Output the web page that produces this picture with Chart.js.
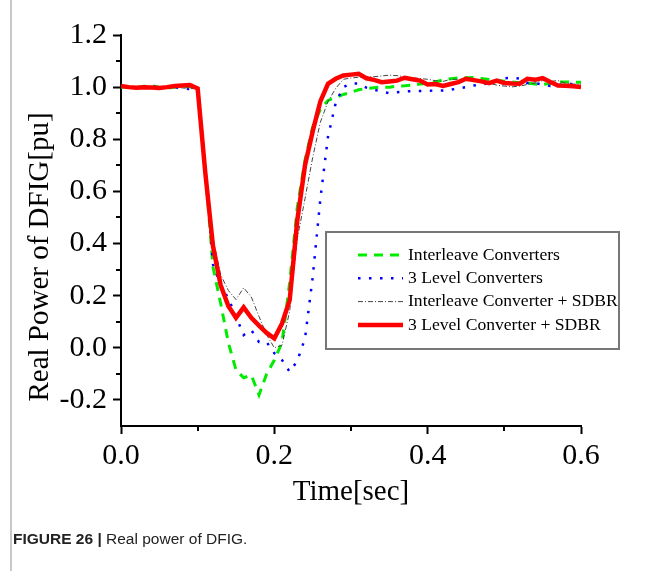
<!DOCTYPE html>
<html>
<head>
<meta charset="utf-8">
<script src="https://cdn.jsdelivr.net/npm/chart.js@4.4.0/dist/chart.umd.min.js"></script>
<style>
  html, body { margin: 0; padding: 0; background: #fff; }
  #wrap { position: relative; width: 665px; height: 571px; overflow: hidden; }
  #frame { position: absolute; left: 10px; top: 0; height: 571px; border-left: 2px solid #c8c8c8; }
  #caption {
    position: absolute; left: 13px; top: 530px;
    font-family: 'Liberation Sans Narrow', 'Liberation Sans', Arial, sans-serif;
    font-size: 15.5px; color: #222; white-space: nowrap;
  }
</style>
</head>
<body>
<div id="wrap">
  <canvas id="powerChart" width="665" height="571"></canvas>
  <div id="frame"></div>
  <div id="caption"><b>FIGURE 26 |</b> Real power of DFIG.</div>
</div>
<script>
// time base (s)
const timeSec = [0.00, 0.01, 0.02, 0.03, 0.04, 0.05, 0.06, 0.07, 0.08, 0.09,
  0.10, 0.11, 0.12, 0.13, 0.14, 0.15, 0.16, 0.17, 0.18, 0.19,
  0.20, 0.21, 0.22, 0.23, 0.24, 0.25, 0.26, 0.27, 0.28, 0.29,
  0.30, 0.31, 0.32, 0.33, 0.34, 0.35, 0.36, 0.37, 0.38, 0.39,
  0.40, 0.41, 0.42, 0.43, 0.44, 0.45, 0.46, 0.47, 0.48, 0.49,
  0.50, 0.51, 0.52, 0.53, 0.54, 0.55, 0.56, 0.57, 0.58, 0.59, 0.60];

// real power [pu]
const interleave = [1.000, 1.000, 0.998, 1.003, 1.005, 1.000, 0.996, 1.000, 1.002, 1.003,
  0.995, 0.680, 0.310, 0.170, 0.020, -0.085, -0.115, -0.105, -0.181, -0.100,
  -0.047, 0.020, 0.250, 0.540, 0.720, 0.847, 0.915, 0.949, 0.960, 0.972,
  0.980, 0.990, 0.995, 0.998, 1.000, 1.000, 1.004, 1.005, 1.008, 1.012,
  1.015, 1.020, 1.028, 1.032, 1.035, 1.036, 1.037, 1.033, 1.029, 1.026,
  1.023, 1.020, 1.017, 1.015, 1.012, 1.010, 1.014, 1.019, 1.020, 1.019, 1.019];

const threeLevel = [1.003, 1.000, 0.998, 1.000, 1.002, 1.000, 0.998, 1.000, 0.995, 0.993,
  0.995, 0.680, 0.320, 0.240, 0.190, 0.120, 0.049, 0.068, 0.022, 0.022,
  -0.021, -0.047, -0.092, -0.050, 0.036, 0.270, 0.570, 0.810, 0.939, 1.000,
  1.014, 1.014, 0.998, 0.990, 0.983, 0.977, 0.980, 0.983, 0.985, 0.985,
  0.986, 0.987, 0.987, 0.990, 0.995, 1.000, 1.006, 1.010, 1.016, 1.025,
  1.034, 1.036, 1.033, 1.016, 1.015, 1.010, 1.004, 1.008, 1.012, 1.012, 1.010];

const interleaveSdbr = [1.002, 1.000, 0.994, 0.998, 1.000, 1.000, 1.000, 1.000, 0.997, 0.994,
  0.995, 0.680, 0.420, 0.280, 0.220, 0.185, 0.230, 0.195, 0.120, 0.050,
  0.000, 0.010, 0.140, 0.420, 0.572, 0.730, 0.865, 0.945, 0.995, 1.030,
  1.035, 1.038, 1.040, 1.040, 1.043, 1.046, 1.044, 1.040, 1.036, 1.033,
  1.030, 1.025, 1.022, 1.030, 1.030, 1.028, 1.025, 1.020, 1.015, 1.008,
  1.004, 1.001, 1.004, 1.010, 1.016, 1.025, 1.022, 1.025, 1.015, 1.012, 1.010];

const threeLevelSdbr = [1.004, 1.000, 0.998, 1.000, 0.999, 0.997, 1.000, 1.004, 1.006, 1.008,
  0.995, 0.670, 0.390, 0.240, 0.160, 0.115, 0.155, 0.115, 0.085, 0.057,
  0.036, 0.093, 0.183, 0.490, 0.700, 0.830, 0.945, 1.013, 1.032, 1.045,
  1.048, 1.051, 1.034, 1.028, 1.019, 1.022, 1.025, 1.036, 1.030, 1.025,
  1.010, 1.012, 1.005, 1.012, 1.019, 1.032, 1.027, 1.022, 1.015, 1.025,
  1.016, 1.014, 1.013, 1.032, 1.028, 1.035, 1.020, 1.006, 1.005, 1.003, 1.000];

const seriesLabels = ['Interleave Converters', '3 Level Converters',
  'Interleave Converter + SDBR', '3 Level Converter + SDBR'];

const xTickValues = [0, 0.1, 0.2, 0.3, 0.4, 0.5, 0.6];
const xTickLabels = ['0.0', '', '0.2', '', '0.4', '', '0.6'];
const yTickValues = [-0.2, -0.1, 0, 0.1, 0.2, 0.3, 0.4, 0.5, 0.6, 0.7, 0.8, 0.9, 1.0, 1.1, 1.2];
const yTickLabels = ['-0.2', '', '0.0', '', '0.2', '', '0.4', '', '0.6', '', '0.8', '', '1.0', '', '1.2'];

const serif = "'Liberation Serif', 'Times New Roman', serif";

function toPoints(values) {
  return values.map((v, i) => ({ x: timeSec[i], y: v }));
}

// legend box + axis titles + short minor ticks
const decorPlugin = {
  id: 'decor',
  afterDraw(chart) {
    const ctx = chart.ctx;
    const xs = chart.scales.x, ys = chart.scales.y;
    ctx.save();

    // minor ticks
    ctx.strokeStyle = '#000';
    ctx.lineWidth = 2;
    ctx.beginPath();
    xTickValues.forEach((v, i) => {
      if (xTickLabels[i]) return;
      const px = Math.round(xs.getPixelForValue(v));
      ctx.moveTo(px, xs.top); ctx.lineTo(px, xs.top + 5);
    });
    yTickValues.forEach((v, i) => {
      if (yTickLabels[i]) return;
      const py = Math.round(ys.getPixelForValue(v));
      ctx.moveTo(ys.right, py); ctx.lineTo(ys.right - 5, py);
    });
    ctx.stroke();

    // axis titles
    ctx.fillStyle = '#000';
    ctx.font = '29px ' + serif;
    ctx.textAlign = 'center';
    ctx.textBaseline = 'middle';
    ctx.fillText('Time[sec]', (xs.left + xs.right) / 2, 492);
    ctx.translate(40, 257);
    ctx.rotate(-Math.PI / 2);
    ctx.fillText('Real Power of DFIG[pu]', 0, 0);
    ctx.setTransform(1, 0, 0, 1, 0, 0);

    // legend
    const box = { left: 326, top: 232, right: 619, bottom: 349 };
    ctx.strokeStyle = '#777';
    ctx.lineWidth = 2;
    ctx.strokeRect(box.left, box.top, box.right - box.left, box.bottom - box.top);
    ctx.font = '17.6px ' + serif;
    ctx.textAlign = 'left';
    chart.data.datasets.forEach((ds, i) => {
      const y = 255 + i * 23.3;
      ctx.beginPath();
      ctx.strokeStyle = ds.borderColor;
      ctx.lineWidth = ds.borderWidth;
      ctx.setLineDash(ds.borderDash || []);
      ctx.moveTo(358, y); ctx.lineTo(403, y);
      ctx.stroke();
      ctx.setLineDash([]);
      ctx.fillStyle = '#000';
      ctx.fillText(ds.label, 408, y);
    });
    ctx.restore();
  }
};

new Chart(document.getElementById('powerChart'), {
  type: 'line',
  data: {
    datasets: [
      { label: seriesLabels[0], data: toPoints(interleave), borderColor: 'rgb(0,235,0)',
        borderWidth: 3, borderDash: [9, 7], order: 3 },
      { label: seriesLabels[1], data: toPoints(threeLevel), borderColor: 'rgb(0,0,255)',
        borderWidth: 2.5, borderDash: [2.5, 8.5], order: 2 },
      { label: seriesLabels[2], data: toPoints(interleaveSdbr), borderColor: '#444',
        borderWidth: 1, borderDash: [5, 2, 1, 2], order: 1 },
      { label: seriesLabels[3], data: toPoints(threeLevelSdbr), borderColor: 'rgb(255,0,0)',
        borderWidth: 4.5, order: 0 }
    ]
  },
  options: {
    responsive: false,
    animation: false,
    parsing: false,
    layout: { padding: { left: 0, right: 84, top: 35, bottom: 60 } },
    elements: { point: { radius: 0 }, line: { tension: 0, fill: false } },
    plugins: { legend: { display: false }, tooltip: { enabled: false } },
    scales: {
      x: {
        type: 'linear', min: 0, max: 0.6,
        afterBuildTicks: s => { s.ticks = xTickValues.map(v => ({ value: v })); },
        afterFit: s => { s.height = 85; },
        ticks: {
          autoSkip: false, maxRotation: 0, padding: 4, color: '#000',
          font: { family: serif, size: 30 },
          callback: (v, i) => xTickLabels[i]
        },
        grid: {
          drawOnChartArea: false, tickLength: 8, tickWidth: 2,
          tickColor: c => xTickLabels[c.index] ? '#000' : 'rgba(0,0,0,0)'
        },
        border: { color: '#000', width: 2 }
      },
      y: {
        type: 'linear', min: -0.3, max: 1.2,
        afterBuildTicks: s => { s.ticks = yTickValues.map(v => ({ value: v })); },
        afterFit: s => { s.width = 121; },
        ticks: {
          autoSkip: false, padding: 6, color: '#000',
          font: { family: serif, size: 30 },
          callback: (v, i) => yTickLabels[i]
        },
        grid: {
          drawOnChartArea: false, tickLength: 8, tickWidth: 2,
          tickColor: c => yTickLabels[c.index] ? '#000' : 'rgba(0,0,0,0)'
        },
        border: { color: '#000', width: 2 }
      }
    }
  },
  plugins: [decorPlugin]
});
</script>
</body>
</html>
